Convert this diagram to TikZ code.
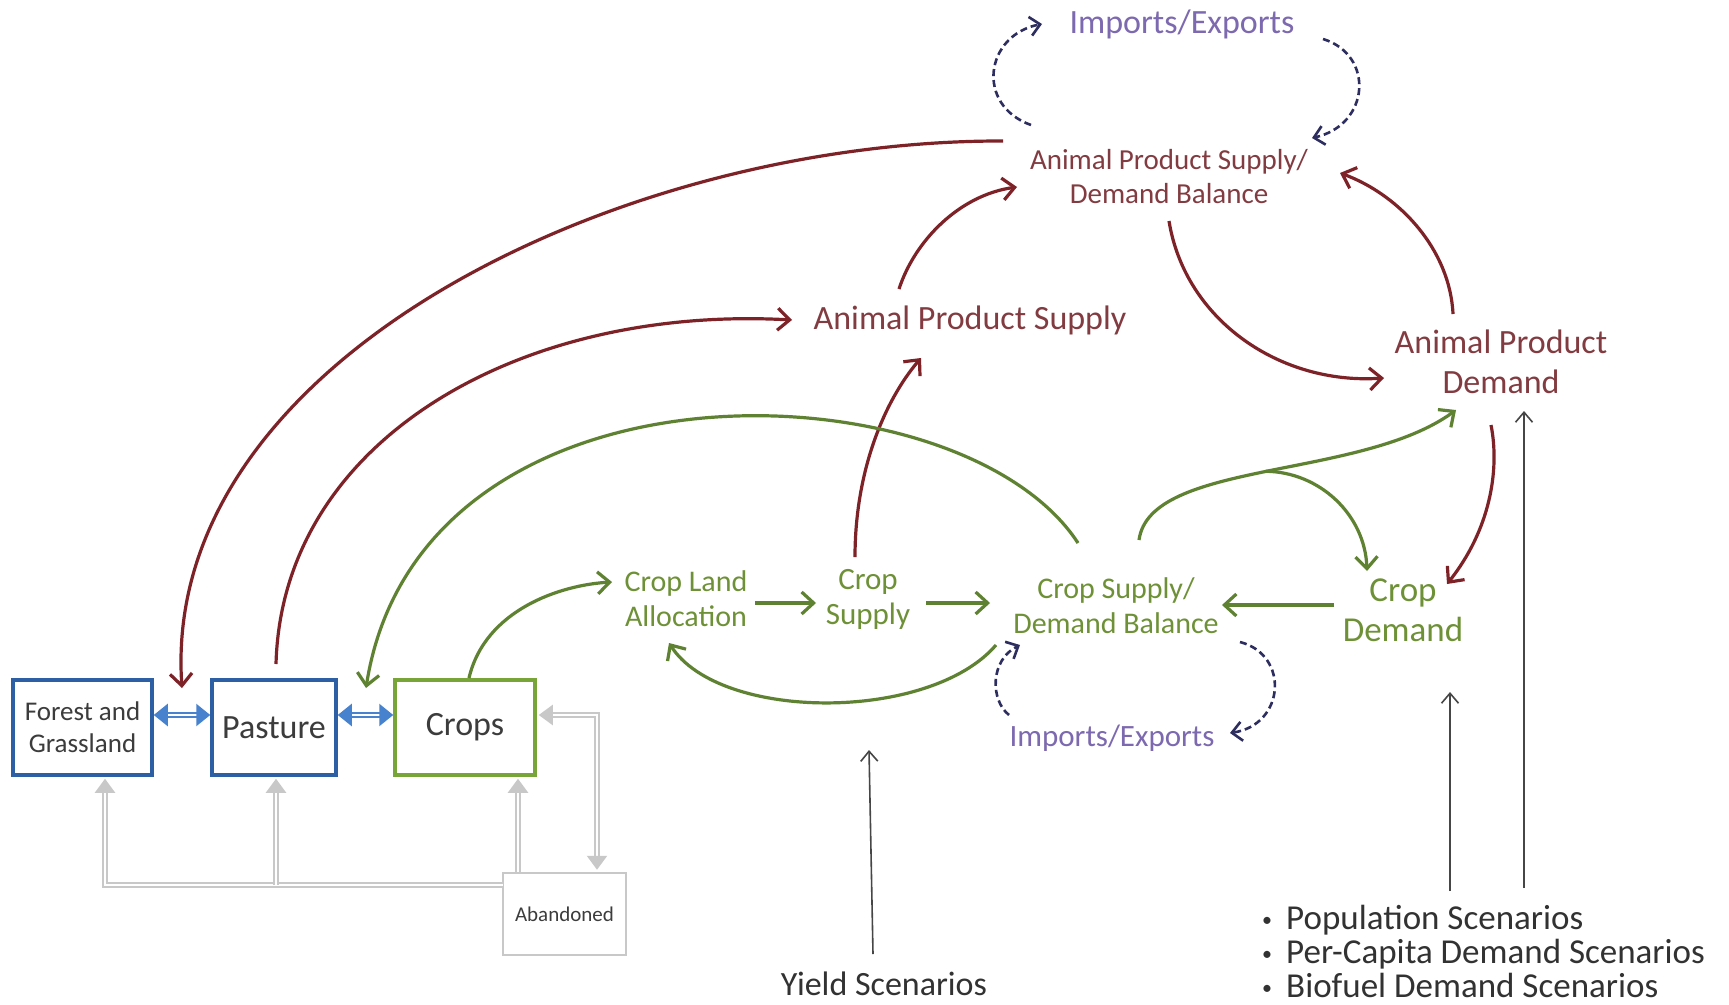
\documentclass[tikz,border=0pt]{standalone}
\usepackage{fontspec}
\setmainfont{Carlito}
\usetikzlibrary{arrows.meta}
\definecolor{boxblue}{RGB}{45,95,165}
\definecolor{arrblue}{RGB}{70,130,205}
\definecolor{boxgreen}{RGB}{120,165,55}
\definecolor{grnline}{RGB}{95,130,50}
\definecolor{grntext}{RGB}{110,145,55}
\definecolor{redline}{RGB}{125,35,40}
\definecolor{redtext}{RGB}{130,60,65}
\definecolor{purtext}{RGB}{125,105,175}
\definecolor{navyline}{RGB}{45,45,95}
\definecolor{greyline}{RGB}{200,200,200}
\definecolor{scentext}{RGB}{50,50,50}
\definecolor{boxtext}{RGB}{60,60,60}
\definecolor{blkline}{RGB}{70,70,70}
\tikzset{
 lbl/.style={inner sep=0pt, align=center},
 redlbl/.style={lbl, text=redtext},
 grnlbl/.style={lbl, text=grntext},
 purlbl/.style={lbl, text=purtext},
 scenlbl/.style={lbl, text=scentext},
 landbox/.style={draw, line width=3.5pt, fill=white, text=boxtext, align=center, inner sep=0pt},
 redarr/.style={draw=redline, line width=3.2pt, -{Straight Barb[length=12pt,width=22pt]}},
 grnarr/.style={draw=grnline, line width=3.2pt, -{Straight Barb[length=12pt,width=22pt]}},
 dasharr/.style={draw=navyline, line width=2.6pt, dash pattern=on 7pt off 4pt, -{Straight Barb[length=10pt,width=19pt]}},
 scenarr/.style={draw=blkline, line width=1.6pt, -{Straight Barb[length=10pt,width=17pt]}},
 greyarr/.style={draw=greyline, line width=2.2pt, double=white, double distance=2pt},
 greytip/.style={-{Triangle[length=14pt,width=20pt]}},
 bluearr/.style={draw=arrblue, line width=2.4pt, double=white, double distance=2pt, {Triangle[length=14pt,width=22pt]}-{Triangle[length=14pt,width=22pt]}},
}
\begin{document}
\begin{tikzpicture}[x=1pt,y=-1pt]
\useasboundingbox (0,0) rectangle (1729,1004);
\fill[white] (0,0) rectangle (1729,1004);

% text nodes
\node[purlbl, font=\fontsize{34}{40}\selectfont] (ImpT) at (1182,24) {Imports/Exports};
\node[redlbl, font=\fontsize{29}{34}\selectfont] (APBal) at (1169,177) {Animal Product Supply/\\Demand Balance};
\node[redlbl, font=\fontsize{34}{40}\selectfont] (APS) at (970,320) {Animal Product Supply};
\node[redlbl, font=\fontsize{34}{40}\selectfont] (APD) at (1501,362) {Animal Product\\Demand};
\node[grnlbl, font=\fontsize{30}{35}\selectfont] (CLA) at (686,599) {Crop Land\\Allocation};
\node[grnlbl, font=\fontsize{31}{35}\selectfont] (CS) at (868,599) {Crop\\Supply};
\node[grnlbl, font=\fontsize{30}{35}\selectfont] (CBal) at (1116,606) {Crop Supply/\\Demand Balance};
\node[grnlbl, font=\fontsize{35}{40}\selectfont] (CD) at (1403,610) {Crop\\Demand};
\node[purlbl, font=\fontsize{31}{36}\selectfont] (ImpB) at (1112,738) {Imports/Exports};
\node[scenlbl, font=\fontsize{34}{40}\selectfont] (Yield) at (884,984) {Yield Scenarios};
\node[scenlbl, align=left, anchor=north west, font=\fontsize{35}{34}\selectfont] (Scen) at (1262,905)
 {\makebox[24pt][l]{\fontsize{20}{20}\selectfont\raisebox{3pt}{•}}Population Scenarios\\
  \makebox[24pt][l]{\fontsize{20}{20}\selectfont\raisebox{3pt}{•}}Per-Capita Demand Scenarios\\
  \makebox[24pt][l]{\fontsize{20}{20}\selectfont\raisebox{3pt}{•}}Biofuel Demand Scenarios};

% land boxes
\node[landbox, draw=boxblue, minimum width=139pt, minimum height=95pt, font=\fontsize{27}{32}\selectfont] (Forest) at (82.5,727.5) {Forest and\\Grassland};
\node[landbox, draw=boxblue, minimum width=124pt, minimum height=95pt, font=\fontsize{34}{40}\selectfont] (Pasture) at (274,727.5) {Pasture};
\node[landbox, draw=boxgreen, minimum width=140pt, minimum height=95pt, font=\fontsize{34}{40}\selectfont] (Crops) at (465,727.5) {Crops};
\node[landbox, draw=greyline, line width=2.5pt, minimum width=123pt, minimum height=82pt, font=\fontsize{21}{25}\selectfont] (Aband) at (564.5,914) {Abandoned};

% blue exchanges
\draw[bluearr] ([shift={(0,-12.5)}]Forest.east) -- ([shift={(0,-12.5)}]Pasture.west);
\draw[bluearr] ([shift={(0,-12.5)}]Pasture.east) -- ([shift={(0,-12.5)}]Crops.west);

% grey abandoned connectors
\draw[greyarr, greytip] ([shift={(-61.5,-29)}]Aband.center) -| ([shift={(22.5,2)}]Forest.south);
\coordinate (gjoin) at ([shift={(-288.5,-29)}]Aband.center);
\draw[greyarr, greytip] (gjoin) -- ([shift={(2,2)}]Pasture.south);
\draw[greyarr, greytip] ([shift={(-46.5,0)}]Aband.north) -- ([shift={(53,2)}]Crops.south);
\draw[greyarr, {Triangle[length=14pt,width=20pt]}-{Triangle[length=14pt,width=20pt]}] ([shift={(2,-12.5)}]Crops.east) -| ([shift={(32.5,-2)}]Aband.north);

% red connectors
\draw[redarr] ([shift={(-166,-36)}]APBal.center) .. controls (620,140) and (160,360) .. ([shift={(99.5,-39.5)}]Forest.center);
\draw[redarr] ([shift={(2,-63.5)}]Pasture.center) .. controls (282,440) and (520,305) .. ([shift={(-178,0)}]APS.center);
\draw[redarr] ([shift={(-13,-42)}]CS.center) .. controls (855,470) and (885,400) .. ([shift={(-49,38)}]APS.center);
\draw[redarr] ([shift={(-71,-31)}]APS.center) .. controls (915,240) and (960,195) .. ([shift={(-152,10)}]APBal.center);
\draw[redarr] ([shift={(0,44)}]APBal.center) .. controls (1185,320) and (1280,385) .. ([shift={(-117,16)}]APD.center);
\draw[redarr] ([shift={(-48,-48)}]APD.center) .. controls (1450,250) and (1400,195) .. ([shift={(171,-4)}]APBal.center);
\draw[redarr] ([shift={(-10,63)}]APD.center) .. controls (1500,470) and (1490,530) .. ([shift={(44,-26)}]CD.center);

% green connectors
\draw[grnarr] ([shift={(4,-49.5)}]Crops.center) .. controls (485,610) and (560,585) .. ([shift={(-74,-17)}]CLA.center);
\draw[grnarr] ([shift={(69,4)}]CLA.center) -- ([shift={(-52,4)}]CS.center);
\draw[grnarr] ([shift={(58,4)}]CS.center) -- ([shift={(-126,-3)}]CBal.center);
\draw[grnarr] ([shift={(-69,-5)}]CD.center) -- ([shift={(106,-1)}]CBal.center);
\draw[grnarr] ([shift={(-120,39)}]CBal.center) .. controls (930,722) and (720,722) .. ([shift={(-17,44)}]CLA.center);
\draw[grnarr] ([shift={(-38,-63)}]CBal.center) .. controls (960,362) and (420,345) .. ([shift={(-99,-39.5)}]Crops.center);
\draw[grnarr] ([shift={(23,-66)}]CBal.center) .. controls (1150,460) and (1360,480) .. coordinate[pos=0.5] (gbr) ([shift={(-45,48)}]APD.center);
\draw[grnarr] (gbr) .. controls (1320,472) and (1365,515) .. ([shift={(-36,-39)}]CD.center);

% dashed trade connectors
\draw[dasharr] ([shift={(-138,-52)}]APBal.center) .. controls (975,105) and (985,35) .. ([shift={(-140,0)}]ImpT.center);
\draw[dasharr] ([shift={(141,15)}]ImpT.center) .. controls (1375,55) and (1370,125) .. ([shift={(143,-39)}]APBal.center);
\draw[dasharr] ([shift={(-103,-23)}]ImpB.center) .. controls (990,700) and (990,660) .. ([shift={(-96,39)}]CBal.center);
\draw[dasharr] ([shift={(124,36)}]CBal.center) .. controls (1290,655) and (1285,725) .. ([shift={(118,-5)}]ImpB.center);

% scenario inputs
\coordinate (yieldtip) at (869,750);
\coordinate (cdtip) at (1450,692);
\draw[scenarr] ([shift={(-11,-30)}]Yield.center) -- (yieldtip);
\draw[scenarr] ([shift={(188,-14)}]Scen.north west) -- (cdtip);
\draw[scenarr] ([shift={(262,-17)}]Scen.north west) -- ([shift={(23,49)}]APD.center);
\end{tikzpicture}
\end{document}
